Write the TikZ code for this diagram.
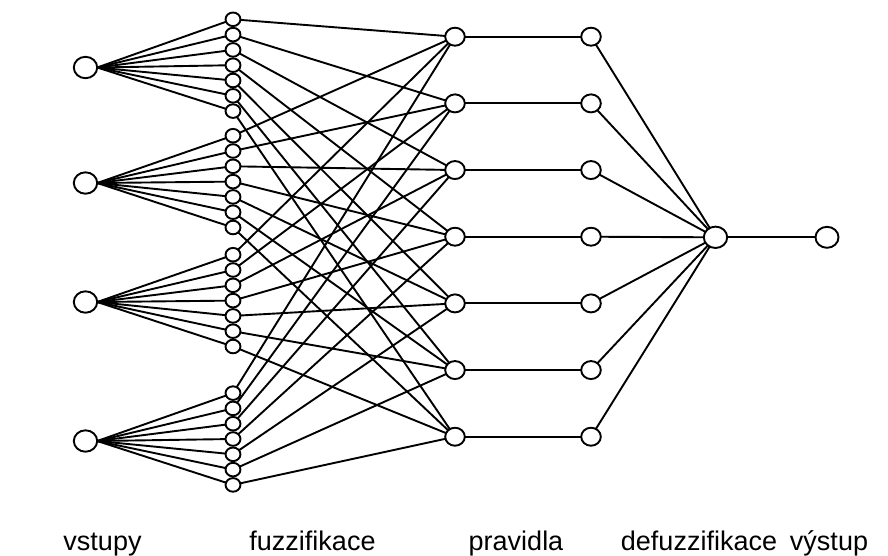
\documentclass[tikz,border=0pt]{standalone}
\usepackage{fontspec}
\setmainfont{Liberation Sans}
\usetikzlibrary{shapes.geometric}
\begin{document}
\begin{tikzpicture}[x=1pt,y=-1pt,
  neuron/.style={ellipse,draw,fill=white,line width=1.9pt,inner sep=0pt,outer sep=0pt},
  bigneuron/.style={neuron,minimum width=23.4pt,minimum height=21.4pt},
  fuzzneuron/.style={neuron,minimum width=14.9pt,minimum height=13.6pt},
  ruleneuron/.style={neuron,minimum width=19.6pt,minimum height=18pt},
  link/.style={line width=1.9pt},
  caption/.style={anchor=base,font=\fontsize{27}{32}\selectfont}]
\useasboundingbox (0,0) rectangle (888,555);

% inputs and their fuzzification sets
\foreach \g/\c/\yi in {1/65.2/67.5, 2/181.6/183, 3/300.6/302, 4/439/441} {
  \node[bigneuron] (in\g) at (85.5,\yi) {};
  \foreach \i in {1,...,7} {
    \node[fuzzneuron] (f\g\i) at (233,{\c+(\i-4)*15.3}) {};
    \draw[link] (in\g.east) -- (f\g\i);
  }
}

% rules and defuzzification
\foreach \r in {1,...,7} {
  \node[ruleneuron] (r\r) at (455,{36.7+(\r-1)*66.67}) {};
  \node[ruleneuron] (d\r) at (591,{36.7+(\r-1)*66.67}) {};
  \draw[link] (r\r) -- (d\r);
}

% each rule takes one set from every input
\foreach \g in {1,...,4}
  \foreach \i in {1,...,7}
    \draw[link] (f\g\i) -- (r\i);

% aggregation and output
\node[bigneuron] (sum) at (715.5,237.3) {};
\node[bigneuron,minimum width=23pt,minimum height=21pt] (out) at (827,237.3) {};
\foreach \r in {1,...,7}
  \draw[link] (d\r) -- (sum);
\draw[link] (sum) -- (out);

% layer captions
\node[caption] (c1) at (102.5,550) {vstupy};
\node[caption] (c2) at (312.5,550) {fuzzifikace};
\node[caption] (c3) at (516,550) {pravidla};
\node[caption] (c4) at (699,550) {defuzzifikace};
\node[caption] (c5) at (829,550) {výstup};
\end{tikzpicture}
\end{document}
